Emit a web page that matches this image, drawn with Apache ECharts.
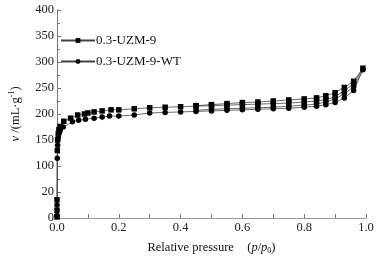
<!DOCTYPE html>
<html><head><meta charset="utf-8">
<script src="https://cdn.jsdelivr.net/npm/echarts@6/dist/echarts.min.js"></script>
<style>html,body{margin:0;padding:0;background:#fff}#c{width:379px;height:262px}</style>
</head><body><div id="c"></div>
<script>
var seriesNames = ['0.3-UZM-9', '0.3-UZM-9-WT'];
// 0.3-UZM-9: adsorption then desorption branch
var s1x = [0, 0, 0, 0.001, 0.002, 0.004, 0.006, 0.01, 0.022, 0.044, 0.067, 0.089, 0.1, 0.12, 0.146, 0.175, 0.2, 0.25, 0.3, 0.35, 0.4, 0.45, 0.5, 0.55, 0.6, 0.65, 0.7, 0.75, 0.8, 0.84, 0.87, 0.9, 0.93, 0.96, 0.99,
           0.96, 0.93, 0.9, 0.87, 0.84, 0.8, 0.75, 0.7, 0.65, 0.6, 0.55, 0.5, 0.45];
var s1y = [2, 15, 35, 130, 150, 162, 170, 176, 186, 192, 198, 200, 202, 204, 206, 208, 208, 210, 212, 213, 214, 215, 216, 217, 218, 219, 220, 221, 223, 225, 228, 233, 245, 258, 288,
           263, 251, 241, 235, 231, 229, 227, 225, 223, 222, 220, 218, 216];
// 0.3-UZM-9-WT
var s2x = [0, 0, 0.001, 0.002, 0.004, 0.007, 0.01, 0.02, 0.05, 0.07, 0.092, 0.12, 0.146, 0.17, 0.2, 0.25, 0.3, 0.35, 0.4, 0.45, 0.5, 0.55, 0.6, 0.65, 0.7, 0.75, 0.8, 0.84, 0.87, 0.9, 0.93, 0.96, 0.99,
           0.96, 0.93, 0.9, 0.87, 0.84, 0.8, 0.75, 0.7, 0.65, 0.6, 0.55, 0.5, 0.45];
var s2y = [5, 25, 115, 140, 155, 163, 168, 175, 185, 188, 190, 192, 194, 196, 196, 198, 202, 203, 204, 205, 206, 207, 208, 209, 210, 211, 213, 215, 218, 222, 231, 245, 285,
           252, 239, 229, 223, 219, 217, 215, 213, 212, 211, 210, 209, 207];
var yTickValues = [0, 50, 100, 150, 200, 250, 300, 350, 400];
var yTickLabels = ['0', '20', '100', '150', '200', '250', '300', '350', '400'];
var xTickLabels = ['0.0', '0.2', '0.4', '0.6', '0.8', '1.0'];

function pairs(xs, ys){ return xs.map(function(x,i){return [x, ys[i]];}); }

var font = 'Liberation Serif, Times New Roman, serif';
var axisColor = '#777';
var chart = echarts.init(document.getElementById('c'), null, {renderer:'canvas'});
chart.setOption({
  animation: false,
  backgroundColor: '#fff',
  grid: {left: 51, top: 10, right: 13, bottom: 44},
  legend: {
    orient: 'vertical', left: 55, top: 29, itemWidth: 34, itemHeight: 6, itemGap: 8,
    textStyle: {fontFamily: font, fontSize: 13, color: '#111', padding: [0,0,0,-4]},
    data: seriesNames
  },
  xAxis: [{
    type: 'value', min: 0, max: 1, interval: 0.2,
    name: '{n|Relative pressure}    {n|(}{i|p}{n|/}{i|p}{sub|0}{n|)}',
    nameLocation: 'middle', nameGap: 22,
    nameTextStyle: {rich: {
      n: {fontFamily: font, fontSize: 12.5, color: '#111'},
      i: {fontFamily: font, fontSize: 12.5, fontStyle: 'italic', color: '#111'},
      sub: {fontFamily: font, fontSize: 8, color: '#111', padding: [7,0,0,0]}
    }},
    axisLine: {lineStyle: {color: axisColor, width: 1}},
    axisTick: {inside: true, length: 4, lineStyle: {color: axisColor}},
    minorTick: {show: true, splitNumber: 2, length: 4, lineStyle: {color: axisColor}},
    splitLine: {show: false},
    axisLabel: {fontFamily: font, fontSize: 12.5, color: '#222', margin: 3,
      formatter: function(v){ return xTickLabels[Math.round(v / 0.2)]; }}
  }, {
    type: 'value', min: 0, max: 1, position: 'top',
    axisLine: {show: true, lineStyle: {color: '#999'}}, axisTick: {show: false}, axisLabel: {show: false}, splitLine: {show: false}
  }],
  yAxis: [{
    type: 'value', min: 0, max: 400, interval: 50,
    name: '{i|v} {n|/(mL·g}{sup|-1}{n|)}',
    nameLocation: 'middle', nameGap: 34, nameRotate: 90,
    nameTextStyle: {rich: {
      n: {fontFamily: font, fontSize: 12.5, color: '#111'},
      i: {fontFamily: font, fontSize: 12.5, fontStyle: 'italic', color: '#111'},
      sup: {fontFamily: font, fontSize: 8, color: '#111', padding: [0,0,7,0]}
    }},
    axisLine: {show: true, lineStyle: {color: axisColor, width: 1}},
    axisTick: {inside: true, length: 4, lineStyle: {color: axisColor}},
    minorTick: {show: true, splitNumber: 2, length: 3, lineStyle: {color: axisColor}},
    splitLine: {show: false},
    axisLabel: {fontFamily: font, fontSize: 12.5, color: '#222', margin: 3,
      formatter: function(v){ var k = yTickValues.indexOf(v); return k >= 0 ? yTickLabels[k] : ''; }}
  }, {
    type: 'value', min: 0, max: 400, position: 'right',
    axisLine: {show: true, lineStyle: {color: '#777'}}, axisTick: {show: false}, axisLabel: {show: false}, splitLine: {show: false}
  }],
  series: [{
    name: seriesNames[0], type: 'line', data: pairs(s1x, s1y),
    symbol: 'rect', symbolSize: 5.5, showSymbol: true,
    lineStyle: {color: '#444', width: 0.8},
    itemStyle: {color: '#000'}
  }, {
    name: seriesNames[1], type: 'line', data: pairs(s2x, s2y),
    symbol: 'circle', symbolSize: 5.5, showSymbol: true,
    lineStyle: {color: '#444', width: 0.8},
    itemStyle: {color: '#000'}
  }]
});
</script></body></html>
